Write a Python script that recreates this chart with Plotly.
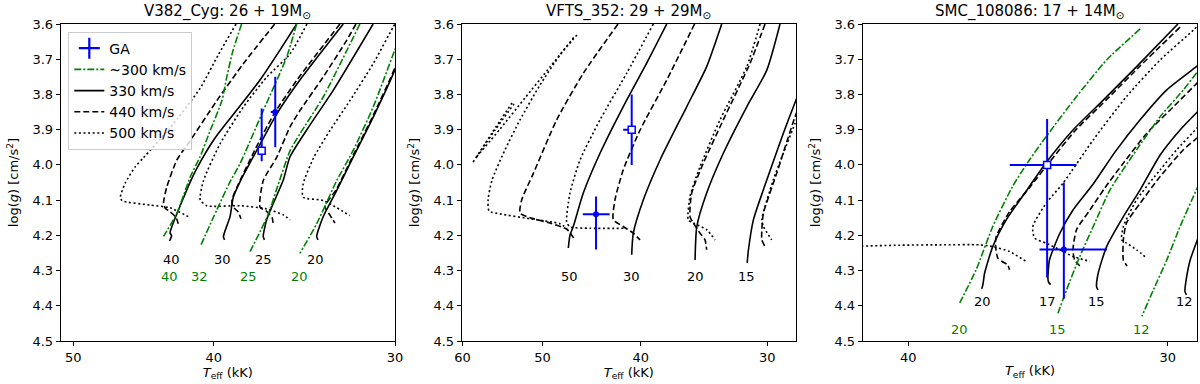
import numpy as np
import plotly.graph_objects as go

# ---------------- V382_Cyg (left panel): (Teff [kK], log g) ----------------
v382_green40 = [(38.27, 3.600), (38.80, 3.676), (39.18, 3.750), (39.49, 3.818), (40.23, 3.903),
                (40.87, 3.976), (41.52, 4.034), (42.41, 4.137), (43.32, 4.203)]
v382_solid40 = [(35.07, 3.600), (36.01, 3.674), (37.17, 3.759), (38.37, 3.833), (39.91, 3.923),
                (41.08, 4.009), (41.52, 4.048), (42.19, 4.116), (42.73, 4.173), (42.87, 4.193),
                (42.77, 4.201), (42.91, 4.216)]
v382_dashed40 = [(36.31, 3.600), (38.17, 3.713), (39.81, 3.818), (41.52, 3.931), (42.41, 3.986),
                 (43.09, 4.062), (43.32, 4.108), (43.20, 4.123), (42.87, 4.133), (42.46, 4.150), (42.32, 4.167)]
v382_dotted40 = [(38.61, 3.600), (39.72, 3.688), (40.87, 3.782), (42.87, 3.895), (44.73, 3.980),
                 (45.32, 4.006), (46.03, 4.051), (46.39, 4.091), (46.25, 4.102), (44.25, 4.114),
                 (42.87, 4.122), (41.52, 4.150)]
v382_green32 = [(35.07, 3.600), (35.63, 3.694), (36.98, 3.846), (38.37, 3.997), (38.98, 4.048),
                (39.81, 4.128), (40.87, 4.232)]
v382_dotted30 = [(34.50, 3.600), (35.44, 3.685), (36.78, 3.751), (38.17, 3.836), (39.60, 3.940),
                 (40.66, 4.045), (40.87, 4.099), (40.44, 4.116), (38.37, 4.116), (36.78, 4.125),
                 (35.82, 4.142), (35.44, 4.156)]
v382_solid30 = [(32.57, 3.600), (34.89, 3.759), (36.19, 3.855), (37.36, 3.959), (38.37, 4.048),
                (38.78, 4.092), (38.98, 4.147), (39.39, 4.203), (39.32, 4.213)]
v382_dashed30 = [(32.74, 3.600), (35.05, 3.759), (36.35, 3.855), (37.49, 3.959), (38.49, 4.057),
                 (38.86, 4.099), (38.80, 4.119), (38.49, 4.133), (38.31, 4.153)]
v382_green25 = [(31.72, 3.600), (33.63, 3.808), (34.89, 3.912), (35.44, 3.960), (36.12, 4.057),
                (36.70, 4.142), (37.76, 4.246)]
v382_solid25 = [(31.06, 3.600), (33.10, 3.789), (34.34, 3.887), (35.44, 3.977), (35.82, 4.043),
                (36.39, 4.109), (36.78, 4.156), (36.98, 4.203), (36.91, 4.213)]
v382_dashed25 = [(31.92, 3.600), (32.40, 3.647), (33.63, 3.751), (34.89, 3.846), (35.44, 3.892),
                 (36.19, 3.978), (36.98, 4.045), (37.17, 4.120), (36.78, 4.132), (36.46, 4.150), (36.40, 4.167)]
v382_green20 = [(29.60, 3.610), (30.01, 3.674), (31.06, 3.836), (32.06, 3.959), (32.91, 4.045),
                (33.97, 4.167), (34.89, 4.251)]
v382_solid20 = [(29.50, 3.640), (30.01, 3.731), (31.06, 3.865), (32.06, 3.978), (32.91, 4.073),
                (33.63, 4.148), (33.97, 4.203), (33.90, 4.213)]
v382_dashed20 = [(29.50, 3.630), (30.01, 3.725), (31.06, 3.860), (32.06, 3.973), (32.91, 4.068),
                 (33.53, 4.119), (33.27, 4.142), (33.00, 4.165)]
v382_dotted20 = [(29.90, 3.590), (30.09, 3.609), (31.06, 3.713), (32.23, 3.818), (33.27, 3.903),
                 (34.12, 3.978), (34.71, 4.054), (34.71, 4.092), (33.63, 4.101), (32.23, 4.144)]

# ---------------- VFTS_352 (middle panel) ----------------
vfts_dotS1 = [(58.56, 3.992), (56.09, 3.909), (53.60, 3.824)]
vfts_dotS2 = [(58.17, 3.980), (55.71, 3.901), (53.36, 3.827)]
vfts_dotL = [(58.08, 3.977), (55.08, 3.898), (52.04, 3.810), (49.16, 3.722), (46.45, 3.634)]
vfts_dotH = [(46.24, 3.631), (48.06, 3.688), (50.29, 3.773), (52.63, 3.872), (54.46, 3.957),
             (56.09, 4.043), (56.60, 4.099), (56.47, 4.131), (55.08, 4.139), (51.45, 4.153),
             (48.06, 4.167), (47.34, 4.180)]
vfts_dash50 = [(42.12, 3.600), (45.58, 3.740), (48.42, 3.872), (51.06, 4.024), (52.43, 4.099),
               (52.63, 4.137), (51.45, 4.150), (49.16, 4.165), (47.34, 4.182), (46.98, 4.193), (46.45, 4.213)]
vfts_dot50 = [(38.87, 3.600), (41.30, 3.740), (43.88, 3.872), (45.92, 3.986), (46.98, 4.080),
              (47.34, 4.162), (46.98, 4.176), (44.89, 4.180), (41.44, 4.180)]
vfts_solid50 = [(37.70, 3.600), (39.46, 3.711), (41.30, 3.816), (43.88, 3.967), (45.58, 4.080),
                (46.63, 4.175), (46.98, 4.199), (47.16, 4.236)]
vfts_dash30 = [(35.39, 3.600), (37.70, 3.759), (40.06, 3.901), (41.62, 4.014), (42.41, 4.099),
               (42.57, 4.156), (41.62, 4.175), (40.68, 4.194), (40.06, 4.213)]
vfts_solid30 = [(33.27, 3.600), (34.43, 3.721), (36.03, 3.835), (38.28, 3.986), (39.76, 4.099),
                (40.68, 4.194), (40.83, 4.255)]
vfts_solid20 = [(29.14, 3.600), (30.03, 3.731), (31.43, 3.835), (33.15, 3.967), (34.43, 4.080),
                (35.21, 4.175), (35.35, 4.270)]
vfts_dash20 = [(30.15, 3.600), (31.19, 3.711), (33.15, 3.872), (34.69, 3.995), (35.62, 4.080),
               (35.76, 4.147), (35.49, 4.165), (34.95, 4.194), (34.56, 4.213), (34.43, 4.241)]
vfts_dot20 = [(30.49, 3.600), (31.43, 3.721), (33.40, 3.872), (34.95, 4.005), (35.76, 4.090),
              (35.90, 4.156), (35.49, 4.165), (34.43, 4.184), (33.78, 4.213)]
vfts_solid15 = [(27.50, 3.750), (28.10, 3.816), (28.92, 3.910), (30.03, 4.043), (30.96, 4.156),
                (31.31, 4.241), (31.40, 4.278)]
vfts_dash15 = [(27.60, 3.800), (28.16, 3.863), (29.36, 4.024), (30.26, 4.137), (30.37, 4.184),
               (30.37, 4.213), (30.15, 4.232)]
vfts_dot15 = [(27.60, 3.820), (28.16, 3.882), (29.59, 4.043), (30.37, 4.156), (30.26, 4.175), (29.70, 4.213)]

# ---------------- SMC_108086 (right panel) ----------------
smc_green20 = [(30.93, 3.614), (32.10, 3.702), (33.19, 3.806), (34.33, 3.920), (34.97, 3.986),
               (35.62, 4.060), (36.42, 4.175), (37.10, 4.298), (37.78, 4.392)]
smc_solid20 = [(29.66, 3.600), (31.05, 3.721), (32.22, 3.816), (33.32, 3.901), (34.33, 3.994),
               (35.10, 4.075), (35.88, 4.156), (36.42, 4.232), (36.75, 4.307), (36.82, 4.340), (36.87, 4.352)]
smc_dash20 = [(29.59, 3.609), (30.93, 3.719), (32.12, 3.816), (33.22, 3.901), (34.20, 3.992),
              (34.97, 4.065), (35.75, 4.133), (36.28, 4.203), (36.31, 4.227), (36.22, 4.264),
              (36.03, 4.275), (35.82, 4.284), (35.75, 4.298)]
smc_dot20 = [(43.00, 4.232), (40.37, 4.228), (38.62, 4.227), (36.96, 4.227), (36.42, 4.232),
             (35.75, 4.246), (35.10, 4.274)]
smc_dot17 = [(28.95, 3.600), (29.15, 3.617), (30.25, 3.702), (31.40, 3.806), (32.58, 3.929),
             (33.69, 4.052), (34.33, 4.109), (34.84, 4.175), (34.77, 4.208), (34.33, 4.222),
             (33.81, 4.241), (33.32, 4.260), (32.70, 4.274)]
smc_solid17 = [(28.80, 3.703), (29.03, 3.719), (30.03, 3.787), (30.93, 3.872), (31.80, 3.963),
               (32.58, 4.054), (33.32, 4.128), (33.81, 4.194), (34.20, 4.270), (34.26, 4.321),
               (34.24, 4.332), (34.16, 4.340)]
smc_dash17 = [(28.80, 3.747), (29.03, 3.767), (29.81, 3.835), (30.70, 3.910), (31.51, 3.995),
              (32.16, 4.065), (32.70, 4.128), (33.19, 4.184), (33.32, 4.241), (33.26, 4.270), (33.07, 4.287)]
smc_green15 = [(28.80, 3.710), (29.03, 3.736), (29.48, 3.787), (30.25, 3.863), (31.05, 3.957),
               (31.98, 4.071), (32.58, 4.175), (33.07, 4.260), (33.56, 4.355), (33.88, 4.421)]
smc_solid15 = [(28.80, 3.830), (29.03, 3.850), (29.59, 3.901), (30.25, 3.972), (30.93, 4.071),
               (31.51, 4.147), (32.10, 4.232), (32.40, 4.307), (32.46, 4.346), (32.41, 4.355)]
smc_dash15 = [(28.80, 3.905), (29.03, 3.923), (29.48, 3.957), (30.25, 4.033), (30.93, 4.109),
              (31.40, 4.165), (31.51, 4.213), (31.51, 4.270), (31.38, 4.287)]
smc_dot15 = [(28.80, 3.875), (29.03, 3.895), (29.70, 3.957), (30.25, 4.014), (31.05, 4.099),
             (31.51, 4.175), (31.57, 4.213), (31.40, 4.222), (31.05, 4.241), (30.70, 4.265)]
smc_green12 = [(28.80, 4.020), (29.03, 4.065), (29.59, 4.175), (30.03, 4.270), (30.48, 4.355), (30.87, 4.430)]
smc_solid12 = [(28.90, 4.180), (29.03, 4.213), (29.26, 4.270), (29.39, 4.326), (29.43, 4.360), (29.38, 4.369)]

# ---------------- GA fits: [open square, filled point] ----------------
v382_ga_T = [37.07, 36.28]
v382_ga_g = [3.96, 3.85]
v382_ga_dT_hot = [0.0, 0.26]
v382_ga_dT_cool = [0.0, 0.17]
v382_ga_dg_up = [0.12, 0.10]
v382_ga_dg_down = [0.03, 0.10]

vfts_ga_T = [40.83, 44.28]
vfts_ga_g = [3.90, 4.14]
vfts_ga_dT_hot = [0.80, 1.35]
vfts_ga_dT_cool = [0.0, 1.35]
vfts_ga_dg_up = [0.10, 0.05]
vfts_ga_dg_down = [0.10, 0.10]

smc_ga_T = [34.29, 33.66]
smc_ga_g = [4.00, 4.24]
smc_ga_dT_hot = [1.45, 0.92]
smc_ga_dT_cool = [1.10, 1.57]
smc_ga_dg_up = [0.13, 0.19]
smc_ga_dg_down = [0.32, 0.14]

# ---------------- mass labels ----------------
v382_lab_black = ["40", "30", "25", "20"]
v382_lab_black_T = [42.76, 39.44, 36.98, 34.03]
v382_lab_green = ["40", "32", "25", "20"]
v382_lab_green_T = [42.93, 40.91, 37.86, 34.89]
v382_lab_g = (4.268, 4.317)

vfts_lab_black = ["50", "30", "20", "15"]
vfts_lab_black_T = [47.06, 40.83, 35.35, 31.43]
vfts_lab_g = 4.317

smc_lab_black = ["20", "17", "15", "12"]
smc_lab_black_T = [36.82, 34.26, 32.46, 29.43]
smc_lab_green = ["20", "15", "12"]
smc_lab_green_T = [37.78, 33.88, 30.87]
smc_lab_g = (4.388, 4.468)

titles = ["V382_Cyg: 26 + 19M<sub>⊙</sub>", "VFTS_352: 29 + 29M<sub>⊙</sub>",
          "SMC_108086: 17 + 14M<sub>⊙</sub>"]
xticks = [[50, 40, 30], [60, 50, 40, 30], [40, 30]]
xlims = [(51.0, 30.0), (60.1, 28.1), (42.07, 29.03)]
legend_names = ["~300 km/s", "330 km/s", "440 km/s", "500 km/s"]

GREEN = "#008000"
LINE = {
    "green": dict(color=GREEN, width=1.6, dash="7px,2px,2px,2px"),
    "solid": dict(color="black", width=1.6),
    "dashed": dict(color="black", width=1.6, dash="6px,3px"),
    "dotted": dict(color="black", width=1.6, dash="2px,2.6px"),
}

panels = [
    ("", [("dotted", v382_dotted40), ("dashed", v382_dashed40), ("solid", v382_solid40), ("green", v382_green40),
          ("dotted", v382_dotted30), ("green", v382_green32), ("solid", v382_solid30), ("dashed", v382_dashed30),
          ("dashed", v382_dashed25), ("solid", v382_solid25), ("green", v382_green25),
          ("dotted", v382_dotted20), ("solid", v382_solid20), ("dashed", v382_dashed20), ("green", v382_green20)]),
    ("2", [("dotted", vfts_dotS1), ("dotted", vfts_dotS2), ("dotted", vfts_dotL), ("dotted", vfts_dotH),
           ("dashed", vfts_dash50), ("dotted", vfts_dot50), ("solid", vfts_solid50),
           ("dashed", vfts_dash30), ("solid", vfts_solid30),
           ("dotted", vfts_dot20), ("dashed", vfts_dash20), ("solid", vfts_solid20),
           ("dotted", vfts_dot15), ("dashed", vfts_dash15), ("solid", vfts_solid15)]),
    ("3", [("dotted", smc_dot20), ("dashed", smc_dash20), ("solid", smc_solid20), ("green", smc_green20),
           ("dotted", smc_dot17), ("dashed", smc_dash17), ("solid", smc_solid17), ("green", smc_green15),
           ("dotted", smc_dot15), ("dashed", smc_dash15), ("solid", smc_solid15),
           ("green", smc_green12), ("solid", smc_solid12)]),
]

fig = go.Figure()

for ax, tracks in panels:
    for kind, pts in tracks:
        t, g = zip(*pts)
        fig.add_trace(go.Scatter(x=list(t), y=list(g), mode="lines",
                                 line=dict(LINE[kind], shape="spline", smoothing=0.6),
                                 xaxis="x" + ax, yaxis="y" + ax, showlegend=False, hoverinfo="skip"))

# GA points with error bars
ga_sets = [("", v382_ga_T, v382_ga_g, v382_ga_dT_hot, v382_ga_dT_cool, v382_ga_dg_up, v382_ga_dg_down),
           ("2", vfts_ga_T, vfts_ga_g, vfts_ga_dT_hot, vfts_ga_dT_cool, vfts_ga_dg_up, vfts_ga_dg_down),
           ("3", smc_ga_T, smc_ga_g, smc_ga_dT_hot, smc_ga_dT_cool, smc_ga_dg_up, smc_ga_dg_down)]
for ax, T, g, dth, dtc, dgu, dgd in ga_sets:
    for i in range(2):
        if i == 0:
            marker = dict(symbol="square", size=7, color="white", line=dict(color="blue", width=1.5))
        else:
            marker = dict(symbol="circle", size=6, color="blue", line=dict(color="blue", width=0))
        fig.add_trace(go.Scatter(
            x=[T[i]], y=[g[i]], mode="markers", marker=marker,
            error_x=dict(type="data", symmetric=False, array=[dth[i]], arrayminus=[dtc[i]],
                         color="blue", thickness=2, width=0, visible=dth[i] + dtc[i] > 0),
            error_y=dict(type="data", symmetric=False, array=[dgd[i]], arrayminus=[dgu[i]],
                         color="blue", thickness=2, width=0),
            xaxis="x" + ax, yaxis="y" + ax, showlegend=False, hoverinfo="skip"))

# legend entries (left panel)
fig.add_trace(go.Scatter(x=[None], y=[None], mode="markers", name="GA",
                         marker=dict(symbol="cross-thin", size=15, line=dict(color="blue", width=2.2))))
for name, kind in zip(legend_names, ["green", "solid", "dashed", "dotted"]):
    fig.add_trace(go.Scatter(x=[None], y=[None], mode="lines", name=name, line=LINE[kind]))

# mass labels
ann = []
for txt, T in zip(v382_lab_black, v382_lab_black_T):
    ann.append(dict(x=np.log10(T), y=v382_lab_g[0], xref="x", yref="y", text=txt, showarrow=False,
                    font=dict(size=13, color="black")))
for txt, T in zip(v382_lab_green, v382_lab_green_T):
    ann.append(dict(x=np.log10(T), y=v382_lab_g[1], xref="x", yref="y", text=txt, showarrow=False,
                    font=dict(size=13, color=GREEN)))
for txt, T in zip(vfts_lab_black, vfts_lab_black_T):
    ann.append(dict(x=np.log10(T), y=vfts_lab_g, xref="x2", yref="y2", text=txt, showarrow=False,
                    font=dict(size=13, color="black")))
for txt, T in zip(smc_lab_black, smc_lab_black_T):
    ann.append(dict(x=np.log10(T), y=smc_lab_g[0], xref="x3", yref="y3", text=txt, showarrow=False,
                    font=dict(size=13, color="black")))
for txt, T in zip(smc_lab_green, smc_lab_green_T):
    ann.append(dict(x=np.log10(T), y=smc_lab_g[1], xref="x3", yref="y3", text=txt, showarrow=False,
                    font=dict(size=13, color=GREEN)))

domains = [[60.7 / 1200, 395.0 / 1200], [461.7 / 1200, 796.0 / 1200], [862.7 / 1200, 1197.3 / 1200]]
for i, dom in enumerate(domains):
    ann.append(dict(x=(dom[0] + dom[1]) / 2, y=1.0, xref="paper", yref="paper",
                    xanchor="center", yanchor="bottom", yshift=1,
                    text=titles[i], showarrow=False, font=dict(size=15, color="black")))

common = dict(showline=True, linecolor="black", linewidth=1, mirror=True, ticks="outside",
              ticklen=4, tickwidth=1, tickcolor="black", showgrid=False, zeroline=False,
              automargin=False, tickfont=dict(size=13, color="black"))

layout = dict(width=1200, height=384, margin=dict(l=0, r=0, t=24, b=43, autoexpand=False),
              plot_bgcolor="white", paper_bgcolor="white",
              font=dict(family="DejaVu Sans", size=13, color="black"),
              annotations=ann,
              legend=dict(x=68.3 / 1200, y=0.976, xanchor="left", yanchor="top",
                          bgcolor="rgba(255,255,255,0.8)", bordercolor="#cccccc", borderwidth=1,
                          font=dict(size=14, color="black"), itemwidth=30))
for i, ax in enumerate(["", "2", "3"]):
    lo, hi = xlims[i]
    layout["xaxis" + ax] = dict(common, type="log", domain=domains[i], anchor="y" + ax,
                                range=[np.log10(lo), np.log10(hi)], tickmode="array",
                                tickvals=xticks[i], ticktext=[str(v) for v in xticks[i]],
                                title=dict(text="<i>T</i><sub>eff</sub> (kK)", font=dict(size=13), standoff=2))
    layout["yaxis" + ax] = dict(common, domain=[0, 1], anchor="x" + ax, range=[4.5, 3.6],
                                tick0=3.6, dtick=0.1, tickformat=".1f",
                                title=dict(text="log(<i>g</i>) [cm/s<sup>2</sup>]", font=dict(size=13),
                                           standoff=10))
fig.update_layout(**layout)

# the page body has a default 8px margin; remove it so the figure sits at the window origin
fig.write_html("out.html", config={"displayModeBar": False},
               post_script="document.body.style.margin='0px';")
